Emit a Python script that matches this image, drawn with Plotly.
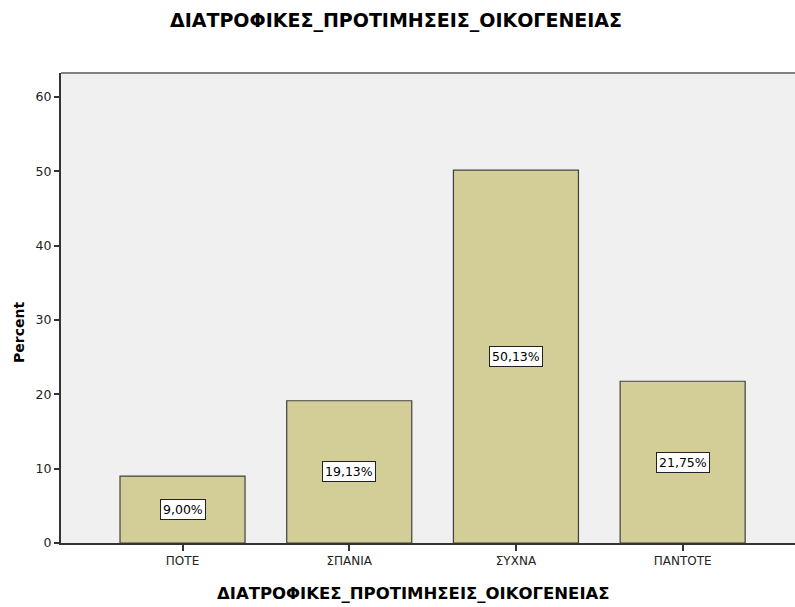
import plotly.graph_objects as go

categories = ["ΠΟΤΕ", "ΣΠΑΝΙΑ", "ΣΥΧΝΑ", "ΠΑΝΤΟΤΕ"]
percents = [9.00, 19.13, 50.13, 21.75]
y_ticks = [0, 10, 20, 30, 40, 50, 60]
title_text = "ΔΙΑΤΡΟΦΙΚΕΣ_ΠΡΟΤΙΜΗΣΕΙΣ_ΟΙΚΟΓΕΝΕΙΑΣ"
x_title = "ΔΙΑΤΡΟΦΙΚΕΣ_ΠΡΟΤΙΜΗΣΕΙΣ_ΟΙΚΟΓΕΝΕΙΑΣ"
y_title = "Percent"

FONT = "DejaVu Sans, Verdana, sans-serif"
W, H = 795, 607
ML, MR, MT, MB = 61, 0, 73, 64
xs = list(range(len(categories)))

fig = go.Figure()
fig.add_trace(go.Bar(
    x=xs, y=percents, width=0.75,
    marker=dict(color="#D3CE98", line=dict(color="#404040", width=1.2)),
    hoverinfo="skip",
))

for xi, v in zip(xs, percents):
    fig.add_annotation(
        x=xi, y=v / 2, xref="x", yref="y",
        text=f"{v:.2f}%".replace(".", ","),
        showarrow=False,
        font=dict(family=FONT, size=12.5, color="#000"),
        bgcolor="white", bordercolor="#222", borderwidth=1, borderpad=2,
    )

# top border of plot frame
fig.add_shape(type="line", xref="paper", yref="paper", x0=0, x1=1, y0=1, y1=1,
              line=dict(color="#808080", width=2))

pw = W - ML - MR
ph = H - MT - MB
fig.add_annotation(text=f"<b>{title_text}</b>", xref="paper", yref="paper",
                   x=(396 - ML) / pw, y=1 + (MT - 20) / ph, xanchor="center", yanchor="middle",
                   showarrow=False, font=dict(family=FONT, size=19, color="#000"))
fig.add_annotation(text=f"<b>{x_title}</b>", xref="paper", yref="paper",
                   x=(413 - ML) / pw, y=-(593 - (H - MB)) / ph, xanchor="center", yanchor="middle",
                   showarrow=False, font=dict(family=FONT, size=16.5, color="#000"))
fig.add_annotation(text=f"<b>{y_title}</b>", xref="paper", yref="paper",
                   x=-(ML - 19) / pw, y=(H - MB - 333) / ph, xanchor="center", yanchor="middle",
                   textangle=-90, showarrow=False, font=dict(family=FONT, size=14, color="#000"))

fig.update_layout(
    width=W, height=H,
    margin=dict(l=ML, r=MR, t=MT, b=MB),
    paper_bgcolor="white", plot_bgcolor="#F0F0F0",
    showlegend=False,
    font=dict(family=FONT, size=12, color="#222"),
)
fig.update_xaxes(
    range=[-0.729, 3.674], tickmode="array", tickvals=xs, ticktext=categories,
    showgrid=False, zeroline=False, showline=True, linecolor="#333", linewidth=1.5,
    ticks="outside", ticklen=6, tickcolor="#333", tickwidth=2,
    tickfont=dict(family=FONT, size=12, color="#222"),
)
fig.update_yaxes(
    range=[0, 63.2], tickmode="array", tickvals=y_ticks,
    showgrid=False, zeroline=False, showline=True, linecolor="#333", linewidth=2,
    ticks="outside", ticklen=5, tickcolor="#333", tickwidth=2,
    tickfont=dict(family=FONT, size=12.5, color="#222"),
)

fig.write_html("out.html", config={"displayModeBar": False},
               post_script="document.body.style.margin='0';document.body.style.padding='0';")
